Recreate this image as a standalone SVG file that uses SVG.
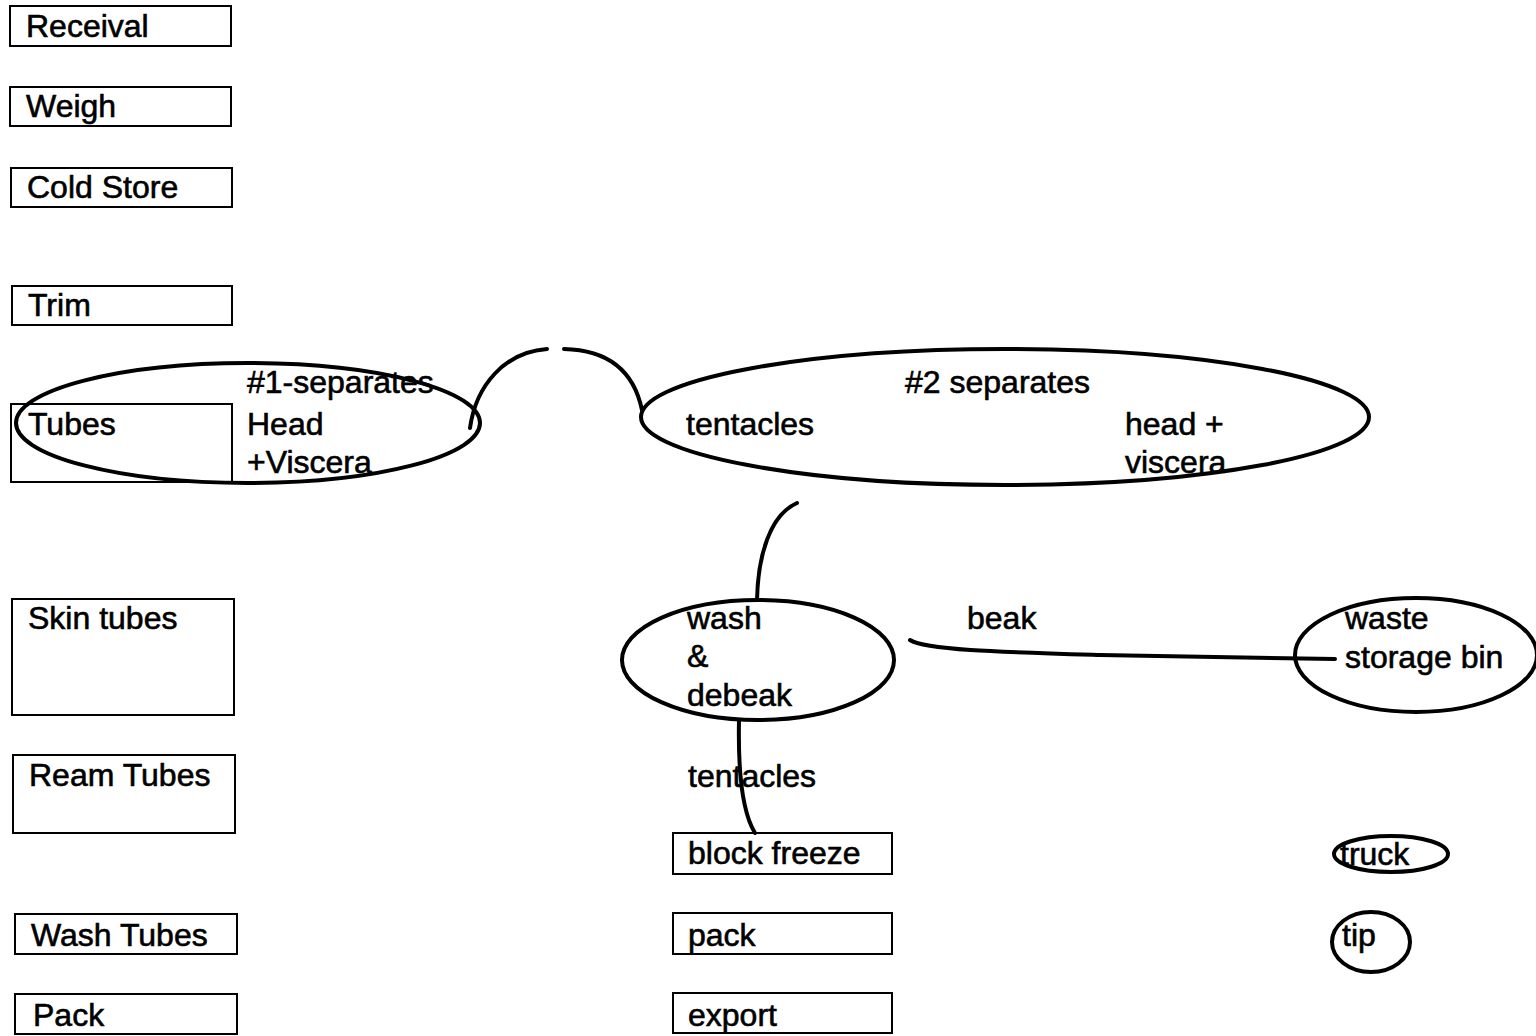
<svg xmlns="http://www.w3.org/2000/svg" width="1536" height="1036" viewBox="0 0 1536 1036">
<style>
  .box{fill:none;stroke:#000;stroke-width:2}
  .ell{fill:none;stroke:#000;stroke-width:4}
  .con{fill:none;stroke:#000;stroke-width:4;stroke-linecap:round}
  text{font-family:"Liberation Sans",Arial,sans-serif;font-size:32px;fill:#000;stroke:#000;stroke-width:0.6}
</style>
<rect width="1536" height="1036" fill="#fff"/>
<g id="receival"><rect class="box" x="10" y="6" width="221" height="40"/><text x="26" y="37">Receival</text></g>
<g id="weigh"><rect class="box" x="10" y="87" width="221" height="39"/><text x="26" y="117">Weigh</text></g>
<g id="cold-store"><rect class="box" x="11" y="168" width="221" height="39"/><text x="27" y="198">Cold Store</text></g>
<g id="trim"><rect class="box" x="12" y="286" width="220" height="39"/><text x="28" y="316">Trim</text></g>
<g id="tubes"><rect class="box" x="11" y="404" width="221" height="78"/><text x="28" y="435">Tubes</text></g>
<g id="skin-tubes"><rect class="box" x="12" y="599" width="222" height="116"/><text x="28" y="629">Skin tubes</text></g>
<g id="ream-tubes"><rect class="box" x="13" y="755" width="222" height="78"/><text x="29" y="786">Ream Tubes</text></g>
<g id="wash-tubes"><rect class="box" x="15" y="914" width="222" height="40"/><text x="31" y="946">Wash Tubes</text></g>
<g id="pack-left"><rect class="box" x="15" y="994" width="222" height="40"/><text x="33" y="1026">Pack</text></g>

<g id="sep1"><ellipse class="ell" cx="248" cy="423" rx="232" ry="60"/><text x="247" y="393">#1-separates</text><text x="247" y="435">Head</text><text x="247" y="473">+Viscera</text></g>
<g id="sep2"><ellipse class="ell" cx="1005" cy="417" rx="364" ry="68"/><text x="905" y="393">#2 separates</text><text x="686" y="435">tentacles</text><text x="1125" y="435">head +</text><text x="1125" y="473">viscera</text></g>
<g id="wash-debeak"><ellipse class="ell" cx="758" cy="660" rx="136" ry="60"/><text x="687" y="629">wash</text><text x="687" y="667">&amp;</text><text x="687" y="706">debeak</text></g>
<g id="waste-bin"><ellipse class="ell" cx="1416" cy="655" rx="121" ry="57"/><text x="1345" y="629">waste</text><text x="1345" y="668">storage bin</text></g>
<g id="block-freeze"><rect class="box" x="673" y="833" width="219" height="41"/><text x="688" y="864">block freeze</text></g>
<g id="pack-mid"><rect class="box" x="673" y="913" width="219" height="41"/><text x="688" y="946">pack</text></g>
<g id="export"><rect class="box" x="673" y="993" width="219" height="40"/><text x="688" y="1026">export</text></g>
<g id="truck"><ellipse class="ell" cx="1391" cy="854" rx="57" ry="18"/><text x="1340" y="865">truck</text></g>
<g id="tip"><ellipse class="ell" cx="1371" cy="942" rx="39" ry="30"/><text x="1342" y="946">tip</text></g>

<g id="labels"><text x="967" y="629">beak</text><text x="688" y="787">tentacles</text></g>

<g id="connectors">
  <path class="con" d="M470,428 C476,385 505,352 547,349"/>
  <path class="con" d="M564,349 C610,350 634,372 642,410"/>
  <path class="con" d="M797,503 C770,515 758,555 757,600"/>
  <path class="con" d="M739,720 C738,770 742,812 755,833"/>
  <path class="con" d="M910,640 C925,650 1000,652 1100,655 L1335,659"/>
</g>
</svg>
